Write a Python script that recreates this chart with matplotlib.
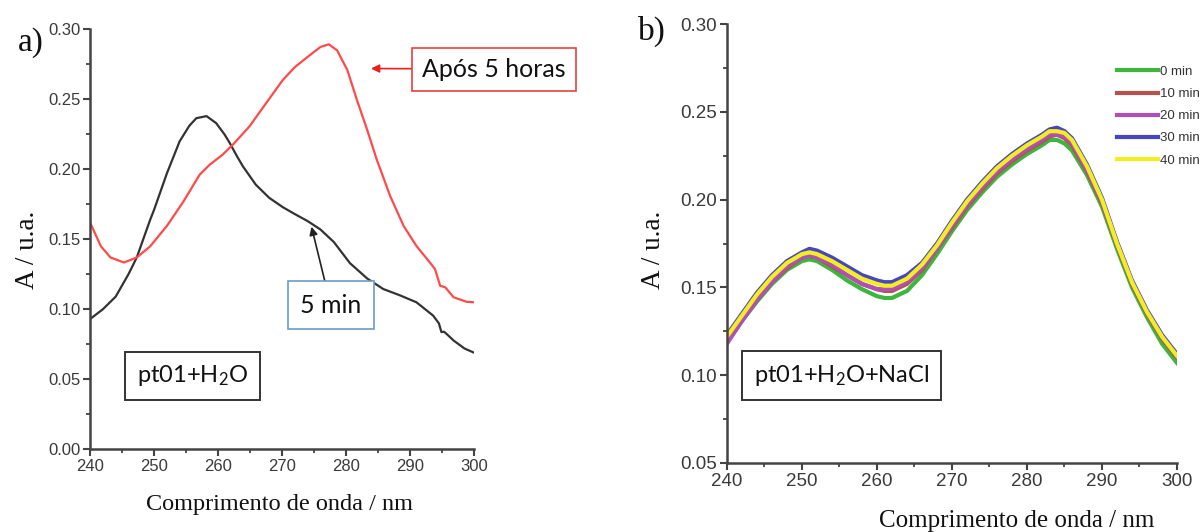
import matplotlib
matplotlib.use("Agg")
import matplotlib.pyplot as plt
from matplotlib.ticker import MultipleLocator, FormatStrFormatter

plt.rcParams['mathtext.fontset'] = 'custom'
plt.rcParams['mathtext.rm'] = 'Lato'
plt.rcParams['mathtext.it'] = 'Lato:italic'

# ---------------- Panel a data ----------------
wl_5min = [240, 242, 244, 246, 247.3, 248, 249.4, 250, 252, 254, 255.5, 256.6, 258.2, 259.7, 261,
           261.8, 263, 263.9, 265.9, 268, 270.1, 272, 274, 276, 278.1, 280.6, 283.3, 285.8,
           288.4, 291, 293.6, 294.5, 294.9, 295.3, 295.8, 296.8, 298.5, 300]
abs_5min = [0.093, 0.100, 0.109, 0.125, 0.137, 0.146, 0.164, 0.171, 0.197, 0.220, 0.231, 0.2365,
            0.238, 0.233, 0.225, 0.219, 0.209, 0.202, 0.189, 0.1796, 0.173, 0.168, 0.163, 0.157,
            0.148, 0.133, 0.122, 0.1145, 0.110, 0.105, 0.0955, 0.090, 0.0837, 0.084, 0.082,
            0.0777, 0.072, 0.069]

wl_5h = [240, 241.7, 243.2, 245.3, 247.3, 249.4, 252, 254.6, 257.1, 258.7, 260.7, 262.3, 264.9,
         267.5, 270.1, 272, 274, 276, 277.3, 278.6, 280.2, 281.7, 283.3, 284.8, 286.9, 289, 291,
         293.1, 293.9, 294.7, 295.5, 296.8, 298.8, 300]
abs_5h = [0.162, 0.145, 0.137, 0.1334, 0.137, 0.145, 0.1595, 0.177, 0.196, 0.2033, 0.2104,
          0.2175, 0.2306, 0.2472, 0.2637, 0.273, 0.2803, 0.2874, 0.2893, 0.285, 0.2709, 0.2495,
          0.2282, 0.2069, 0.1808, 0.1595, 0.1452, 0.1334, 0.1287, 0.1168, 0.1157, 0.1086,
          0.1054, 0.105]

# ---------------- Panel b data ----------------
wl_b = [240, 242, 244, 246, 248, 250, 251, 252, 254, 256, 258, 260, 261, 262, 264, 266, 268,
        270, 272, 274, 276, 278, 280, 282, 283, 284, 285, 286, 288, 290, 292, 294, 296, 298, 300]
abs_0min = [0.119, 0.131, 0.142, 0.152, 0.160, 0.165, 0.166, 0.165, 0.160, 0.154, 0.149, 0.145,
            0.144, 0.144, 0.148, 0.157, 0.169, 0.182, 0.194, 0.204, 0.213, 0.220, 0.226, 0.231,
            0.234, 0.234, 0.232, 0.228, 0.214, 0.196, 0.172, 0.150, 0.133, 0.118, 0.107]
abs_10min = [0.119, 0.131, 0.143, 0.153, 0.161, 0.167, 0.168, 0.167, 0.162, 0.157, 0.152, 0.149,
             0.148, 0.148, 0.152, 0.160, 0.172, 0.184, 0.196, 0.206, 0.215, 0.222, 0.228, 0.233,
             0.236, 0.237, 0.235, 0.231, 0.216, 0.198, 0.174, 0.152, 0.135, 0.121, 0.110]
abs_20min = [0.118, 0.131, 0.143, 0.153, 0.162, 0.167, 0.168, 0.167, 0.163, 0.157, 0.152, 0.149,
             0.149, 0.149, 0.153, 0.161, 0.172, 0.185, 0.197, 0.207, 0.216, 0.223, 0.229, 0.234,
             0.237, 0.237, 0.236, 0.232, 0.217, 0.199, 0.175, 0.153, 0.136, 0.122, 0.111]
abs_30min = [0.123, 0.135, 0.147, 0.157, 0.165, 0.170, 0.172, 0.171, 0.167, 0.162, 0.157, 0.154,
             0.153, 0.153, 0.157, 0.164, 0.175, 0.188, 0.200, 0.210, 0.219, 0.226, 0.232, 0.237,
             0.240, 0.241, 0.239, 0.235, 0.220, 0.201, 0.176, 0.154, 0.137, 0.123, 0.112]
abs_40min = [0.122, 0.134, 0.146, 0.156, 0.164, 0.169, 0.170, 0.169, 0.165, 0.160, 0.155, 0.152,
             0.151, 0.151, 0.155, 0.163, 0.174, 0.187, 0.199, 0.209, 0.218, 0.225, 0.231, 0.236,
             0.239, 0.239, 0.238, 0.234, 0.219, 0.200, 0.175, 0.153, 0.136, 0.122, 0.111]
labels_b = ['0 min', '10 min', '20 min', '30 min', '40 min']
colors_b = ['#3cb63c', '#b5524d', '#b04fb4', '#4646c0', '#f2ee20']

SERIF = ['Liberation Serif', 'DejaVu Serif']
TICKF = ['Liberation Sans Narrow', 'Liberation Sans', 'DejaVu Sans']
BOXF = ['Lato', 'DejaVu Sans']
W, H = 1202, 532

fig = plt.figure(figsize=(12.02, 5.32), dpi=100)
axa = fig.add_axes([0.0749, 0.1555, 0.3195, 0.7894])
axb = fig.add_axes([0.6048, 0.1297, 0.3744, 0.825])

for ax in (axa, axb):
    for s in ('top', 'right'):
        ax.spines[s].set_visible(False)
    for s in ('left', 'bottom'):
        ax.spines[s].set_color('#444444')
        ax.spines[s].set_linewidth(1.8)
    ax.set_xlim(240, 300)
    ax.xaxis.set_major_locator(MultipleLocator(10))
    ax.xaxis.set_minor_locator(MultipleLocator(5))
    ax.yaxis.set_major_locator(MultipleLocator(0.05))
    ax.yaxis.set_minor_locator(MultipleLocator(0.025))
    ax.yaxis.set_major_formatter(FormatStrFormatter('%.2f'))
    ax.tick_params(which='major', direction='out', length=5, width=1.5, color='#444444',
                   labelcolor='#3a3a3a', pad=2)
    ax.tick_params(which='minor', direction='out', length=3, width=1.3, color='#444444')

# Panel a
axa.set_ylim(0, 0.30)
axa.plot(wl_5min, abs_5min, color='#333333', lw=1.6)
axa.plot(wl_5h, abs_5h, color='#ff4a4a', lw=1.6)
for lab in axa.get_xticklabels() + axa.get_yticklabels():
    lab.set_family(TICKF)
    lab.set_fontsize(12)

axa.annotate('Após 5 horas', xy=(283.9, 0.272), xytext=(303.1, 0.2716), textcoords='data',
             ha='center', va='center', fontsize=18, family=BOXF, color='#111111',
             annotation_clip=False,
             bbox=dict(boxstyle='square,pad=0.4', fc='white', ec='#e84040', lw=1.2),
             arrowprops=dict(arrowstyle='-|>', color='#e82020', lw=1.2, mutation_scale=12,
                             shrinkA=0, shrinkB=0))
axa.annotate('5 min', xy=(274.6, 0.159), xytext=(277.6, 0.103), textcoords='data',
             ha='center', va='center', fontsize=18, family=BOXF, color='#111111',
             bbox=dict(boxstyle='square,pad=0.5', fc='white', ec='#6a9ccc', lw=1.2),
             arrowprops=dict(arrowstyle='-|>', color='#222222', lw=1.2, mutation_scale=12,
                             shrinkA=0, shrinkB=0))
axa.text(256.0, 0.0524, r'pt01+H$_{\mathrm{2}}$O', ha='center', va='center', fontsize=17,
         family=BOXF, color='#111111',
         bbox=dict(boxstyle='square,pad=0.5', fc='white', ec='#333333', lw=1.4))

# Panel b
axb.set_ylim(0.05, 0.30)
series_b = [abs_0min, abs_10min, abs_20min, abs_30min, abs_40min]
lines = {}
for i in [3, 0, 1, 2, 4]:
    ln, = axb.plot(wl_b, series_b[i], color=colors_b[i], lw=3.0, label=labels_b[i])
    lines[i] = ln
for lab in axb.get_xticklabels() + axb.get_yticklabels():
    lab.set_family(TICKF)
    lab.set_fontsize(13.5)
leg = axb.legend([lines[i] for i in range(5)], labels_b, loc='upper left',
                 bbox_to_anchor=(0.867, 0.905), frameon=False, borderpad=0, borderaxespad=0,
                 handlelength=3.1, handletextpad=0.15, labelspacing=0.75,
                 prop={'family': TICKF, 'size': 9.5})
for t in leg.get_texts():
    t.set_color('#333333')
axb.text(255.3, 0.0997, r'pt01+H$_{\mathrm{2}}$O+NaCl', ha='center', va='center', fontsize=17,
         family=BOXF, color='#111111',
         bbox=dict(boxstyle='square,pad=0.5', fc='white', ec='#333333', lw=1.4))

# axis titles (placed in figure pixels)
fig.text(280 / W, 1 - 510 / H, 'Comprimento de onda / nm', family=SERIF, fontsize=17.5,
         color='#111111', ha='center', va='baseline')
fig.text(1017 / W, 1 - 527 / H, 'Comprimento de onda / nm', family=SERIF, fontsize=18,
         color='#111111', ha='center', va='baseline')
fig.text(27 / W, 1 - 250 / H, 'A / u.a.', family=SERIF, fontsize=19.5, color='#111111',
         ha='center', va='center', rotation=90)
fig.text(653 / W, 1 - 250 / H, 'A / u.a.', family=SERIF, fontsize=19.5, color='#111111',
         ha='center', va='center', rotation=90)

fig.text(0.015, 0.905, 'a)', family=SERIF, fontsize=24, color='#111111')
fig.text(0.531, 0.925, 'b)', family=SERIF, fontsize=24, color='#111111')

fig.savefig('out.png', dpi=100)
